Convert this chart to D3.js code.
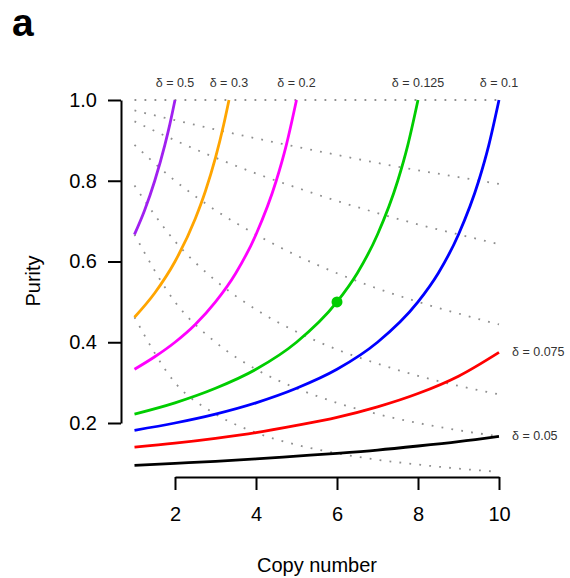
<!DOCTYPE html>
<html>
<head>
<meta charset="utf-8">
<script src="https://cdn.jsdelivr.net/npm/d3@7"></script>
<style>
  body{margin:0;background:#fff;}
  text{font-family:"Liberation Sans",Arial,Helvetica,sans-serif;}
</style>
</head>
<body>
<div id="grafica"></div>
<script>
// datos
var xTicks=[2,4,6,8,10];
var yTicks=[0.2,0.4,0.6,0.8,1.0];
var copias=[1,2,3,4,5,6,7,8,9,10];

// curvas de delta (copy number, purity)
var delta050=[[1,0.667],[1.25,0.727],[1.5,0.8],[1.75,0.889],[1.875,0.941],[2,1.0]];
var delta030=[[1,0.462],[1.5,0.522],[2,0.6],[2.5,0.706],[2.75,0.774],[3,0.857],[3.2,0.938],[3.333,1.0]];
var delta020=[[1,0.333],[1.5,0.364],[2,0.4],[2.5,0.444],[3,0.5],[3.5,0.571],[4,0.667],[4.5,0.8],[4.75,0.889],[5,1.0]];
var delta0125=[[1,0.222],[2,0.25],[3,0.286],[4,0.333],[5,0.4],[6,0.5],[6.5,0.571],[7,0.667],[7.5,0.8],[7.75,0.889],[8,1.0]];
var delta010=[[1,0.182],[2,0.2],[3,0.222],[4,0.25],[5,0.286],[6,0.333],[7,0.4],[8,0.5],[8.5,0.571],[9,0.667],[9.5,0.8],[9.75,0.889],[10,1.0]];
var delta0075=[[1,0.140],[2,0.15],[3,0.162],[4,0.176],[5,0.194],[6,0.214],[7,0.24],[8,0.273],[9,0.316],[10,0.375]];
var delta005=[[1,0.095],[2,0.1],[3,0.105],[4,0.111],[5,0.118],[6,0.125],[7,0.133],[8,0.143],[9,0.154],[10,0.167]];
var etiquetas=["\u03b4 = 0.5","\u03b4 = 0.3","\u03b4 = 0.2","\u03b4 = 0.125","\u03b4 = 0.1","\u03b4 = 0.075","\u03b4 = 0.05"];

// lineas punteadas (purity en cada copy number de 1 a 10)
var punt1=[1,1,1,1,1,1,1,1,1,1];
var punt2=[0.974,0.95,0.927,0.905,0.884,0.864,0.844,0.826,0.809,0.792];
var punt3=[0.947,0.9,0.857,0.818,0.783,0.75,0.72,0.692,0.667,0.643];
var punt4=[0.889,0.8,0.727,0.667,0.615,0.571,0.533,0.5,0.471,0.444];
var punt5=[0.788,0.65,0.553,0.481,0.426,0.382,0.347,0.317,0.292,0.271];
var punt6=[0.667,0.5,0.4,0.333,0.286,0.25,0.222,0.2,0.182,0.167];
var punt7=[0.462,0.3,0.222,0.176,0.146,0.125,0.109,0.097,0.087,0.079];

var punto=[6,0.5];

grafica();

function grafica(){
	var ancho=570, alto=578;
	var svg=d3.select("#grafica")
		.append("svg")
		.attr("width",ancho)
		.attr("height",alto)

	//Escalas (el eje x empieza en 2, como en R)
	var escalaX=d3.scaleLinear().domain([2,10]).range([175,499])
	var escalaY=d3.scaleLinear().domain([0.2,1.0]).range([423,100])

	var linea=d3.line()
		.x(d=>escalaX(d[0]))
		.y(d=>escalaY(d[1]))
		.curve(d3.curveMonotoneX)

	//Punteadas
	var punteadas=[punt1,punt2,punt3,punt4,punt5,punt6,punt7]
	svg.selectAll(".punteada")
		.data(punteadas)
		.enter()
		.append("path")
		.attr("class","punteada")
		.attr("d",d=>linea(d.map((p,i)=>[copias[i],p])))
		.style("fill","none")
		.style("stroke","#8f8f8f")
		.style("stroke-width","1.8px")
		.style("stroke-dasharray","1.8,8.2")

	//Curvas delta
	var curvas=[delta050,delta030,delta020,delta0125,delta010,delta0075,delta005]
	var colores=["#a020f0","#ffa500","#ff00ff","#00cd00","#0000ff","#ff0000","#000000"]
	svg.selectAll(".curva")
		.data(curvas)
		.enter()
		.append("path")
		.attr("class","curva")
		.attr("d",d=>linea(d))
		.style("fill","none")
		.style("stroke",(d,i)=>colores[i])
		.style("stroke-width","2.8px")

	//Punto verde
	svg.append("circle")
		.attr("cx",escalaX(punto[0]))
		.attr("cy",escalaY(punto[1]))
		.attr("r",5.5)
		.style("fill","#00cd00")

	//Etiquetas delta
	curvas.forEach(function(c,i){
		var ult=c[c.length-1]
		var t=svg.append("text")
			.text(etiquetas[i])
			.style("font-size","12.5px")
			.style("fill","#333")
		if(ult[1]>=1){
			t.attr("x",escalaX(ult[0])).attr("y",87).attr("text-anchor","middle")
		}else{
			t.attr("x",escalaX(ult[0])+13).attr("y",escalaY(ult[1])+4).attr("text-anchor","start")
		}
	})

	//Ejes
	var ejeX=svg.append("g")
		.attr("transform","translate(0,477)")
		.call(d3.axisBottom(escalaX).tickValues(xTicks).tickSize(13).tickSizeOuter(0).tickPadding(17).tickFormat(d3.format("d")))
	var ejeY=svg.append("g")
		.attr("transform","translate(121,0)")
		.call(d3.axisLeft(escalaY).tickValues(yTicks).tickSize(13).tickSizeOuter(0).tickPadding(11).tickFormat(d3.format(".1f")))

	svg.selectAll(".domain, .tick line").style("stroke","#000").style("stroke-width","2px")
	svg.selectAll(".tick text").style("font-size","20px").style("fill","#000")
		.style("font-family","'Liberation Sans',Arial,sans-serif")

	//Titulos
	svg.append("text")
		.attr("x",317).attr("y",572)
		.attr("text-anchor","middle")
		.style("font-size","20px")
		.text("Copy number")
	svg.append("text")
		.attr("transform","translate(40,281) rotate(-90)")
		.attr("text-anchor","middle")
		.style("font-size","20px")
		.text("Purity")
	svg.append("text")
		.attr("x",12).attr("y",36)
		.style("font-size","39px")
		.style("font-weight","bold")
		.text("a")
}
</script>
</body>
</html>
